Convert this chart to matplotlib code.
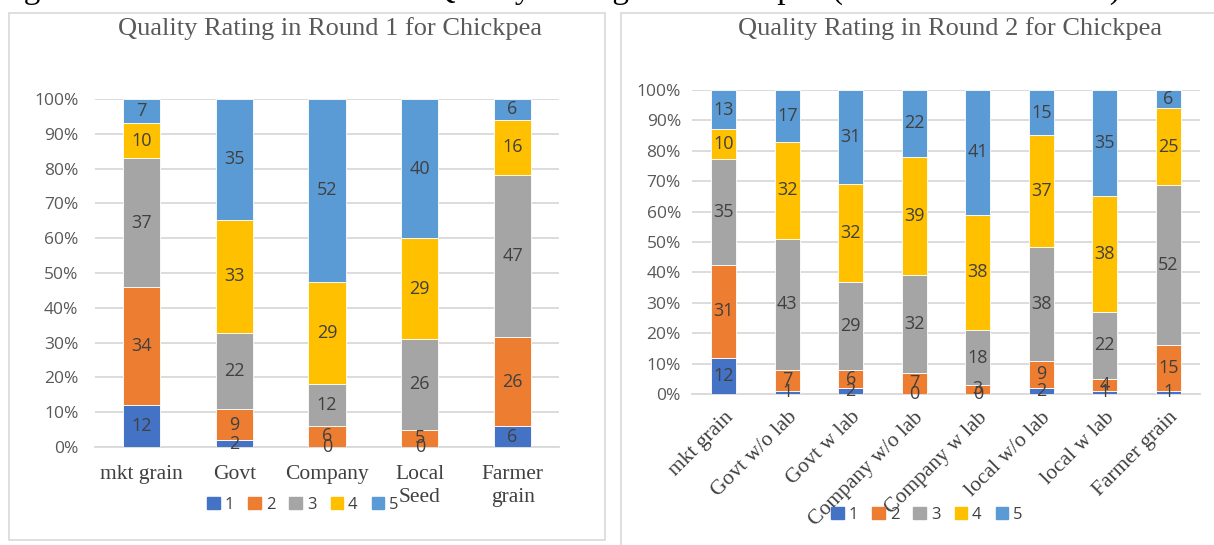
import matplotlib.pyplot as plt
import numpy as np
from matplotlib.patches import Patch, Rectangle

RATINGS = ["1", "2", "3", "4", "5"]
RATING_COLORS = ["#4472C4", "#ED7D31", "#A5A5A5", "#FFC000", "#5B9BD5"]

# round 1: counts per rating (rows = rating 1..5)
round1_sources = ["mkt grain", "Govt", "Company", "Local\nSeed", "Farmer\ngrain"]
round1_counts = [
    [12, 2, 0, 0, 6],
    [34, 9, 6, 5, 26],
    [37, 22, 12, 26, 47],
    [10, 33, 29, 29, 16],
    [7, 35, 52, 40, 6],
]

# round 2
round2_sources = [
    "mkt grain",
    "Govt w/o lab",
    "Govt w lab",
    "Company w/o lab",
    "Company w lab",
    "local w/o lab",
    "local w lab",
    "Farmer grain",
]
round2_counts = [
    [12, 1, 2, 0, 0, 2, 1, 1],
    [31, 7, 6, 7, 3, 9, 4, 15],
    [35, 43, 29, 32, 18, 38, 22, 52],
    [10, 32, 32, 39, 38, 37, 38, 25],
    [13, 17, 31, 22, 41, 15, 35, 6],
]

CAPTION = "Figure 4: Mean of the Observed Quality Ratings for Chickpea (In Two Sites of Test)"

W, H = 1214, 545
SERIF = "Liberation Serif"
SANS = ["Open Sans", "DejaVu Sans"]
GRID = "#D9D9D9"


def px_box(x0, y0, x1, y1):
    """pixel box (top-left origin) -> figure fraction rect"""
    return [x0 / W, 1 - y1 / H, (x1 - x0) / W, (y1 - y0) / H]


def stacked_percent(ax, sources, counts, rotate=False):
    counts = np.array(counts, dtype=float)
    shares = counts / counts.sum(axis=0) * 100
    x = np.arange(len(sources))
    bottom = np.zeros(len(sources))
    for i, rating in enumerate(RATINGS):
        ax.bar(x, shares[i], 0.4, bottom=bottom, color=RATING_COLORS[i],
               edgecolor="white", linewidth=0.6, zorder=3, label=rating)
        for xi, b, s, c in zip(x, bottom, shares[i], counts[i]):
            ax.text(xi, b + s / 2, f"{int(c)}", ha="center", va="center",
                    fontsize=13, color="#404040", family=SANS, zorder=4)
        bottom += shares[i]

    ax.set_xlim(-0.5, len(sources) - 0.5)
    ax.set_ylim(0, 100)
    ax.set_yticks(np.arange(0, 101, 10))
    ax.set_yticklabels([f"{v}%" for v in range(0, 101, 10)],
                       fontsize=12.5, color="#595959", family=SANS)
    ax.yaxis.grid(True, color=GRID, linewidth=1.3, zorder=0)
    ax.set_xticks(x)
    if rotate:
        ax.set_xticklabels(sources, rotation=45, ha="right",
                           rotation_mode="anchor", fontsize=15.5,
                           color="#404040", family=SERIF)
        ax.tick_params(axis="x", length=0, pad=10)
    else:
        ax.set_xticklabels(sources, fontsize=15.5, color="#404040",
                           family=SERIF, linespacing=1.25, va="top")
        ax.tick_params(axis="x", length=0, pad=13)
    ax.tick_params(axis="y", length=0, pad=12 if not rotate else 8)
    for side in ["top", "right", "left"]:
        ax.spines[side].set_visible(False)
    ax.spines["bottom"].set_color(GRID)
    ax.spines["bottom"].set_linewidth(1.3)


fig = plt.figure(figsize=(W / 100, H / 100), dpi=100)

# chart frames
for x0, y0, x1, y1 in [(9, 13, 605, 540), (621, 13, 1230, 560)]:
    fig.patches.append(Rectangle((x0 / W, 1 - y1 / H), (x1 - x0) / W,
                                 (y1 - y0) / H, transform=fig.transFigure,
                                 fill=False, edgecolor=GRID, linewidth=1.2))

# caption line above the charts, running off the top edge
fig.text(-4 / W, 1 + 2 / H, CAPTION, ha="left", va="baseline",
         fontsize=24, family=SERIF, color="black")

ax1 = fig.add_axes(px_box(95, 99, 559, 447))
stacked_percent(ax1, round1_sources, round1_counts)
fig.text(330 / W, 1 - 29 / H, "Quality Rating in Round 1 for Chickpea",
         ha="center", va="center", fontsize=19, family=SERIF, color="#595959")

ax2 = fig.add_axes(px_box(692, 90, 1200, 394))
stacked_percent(ax2, round2_sources, round2_counts, rotate=True)
fig.text(950 / W, 1 - 29 / H, "Quality Rating in Round 2 for Chickpea",
         ha="center", va="center", fontsize=19, family=SERIF, color="#595959")

handles = [Patch(color=c, label=r) for r, c in zip(RATINGS, RATING_COLORS)]
for cx, cy in [(303, 505), (927, 515)]:
    leg = fig.legend(handles=handles, loc="center", ncol=5,
                     bbox_to_anchor=(cx / W, 1 - cy / H), frameon=False,
                     handlelength=0.75, handleheight=0.75, handletextpad=0.3,
                     columnspacing=0.85, prop={"family": SANS, "size": 12})
    for t in leg.get_texts():
        t.set_color("#404040")

fig.savefig("out.png", dpi=100)
